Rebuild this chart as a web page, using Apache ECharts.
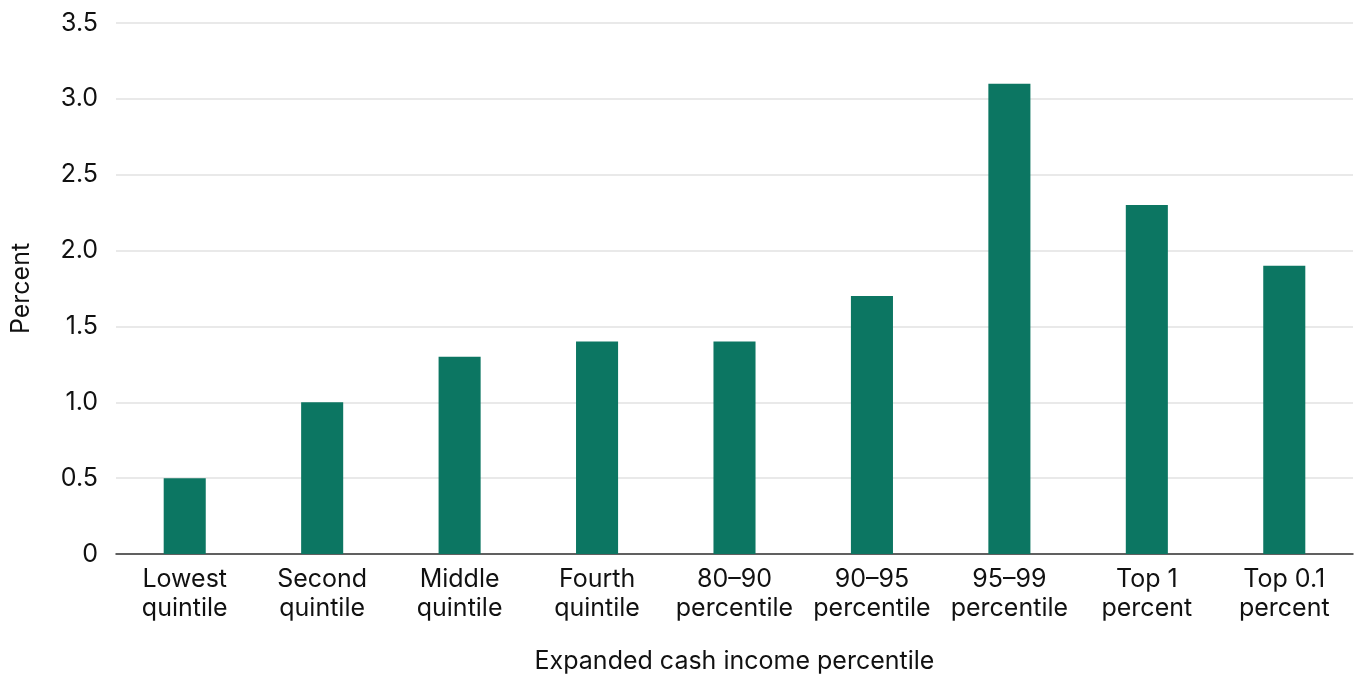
<!DOCTYPE html>
<html><head><meta charset="utf-8">
<script src="https://cdn.jsdelivr.net/npm/echarts@6/dist/echarts.min.js"></script>
<style>html,body{margin:0;padding:0;background:#fff}#c{width:1357px;height:681px}</style>
</head><body><div id="c"></div>
<script>
const categories = ['Lowest\nquintile','Second\nquintile','Middle\nquintile','Fourth\nquintile','80–90\npercentile','90–95\npercentile','95–99\npercentile','Top 1\npercent','Top 0.1\npercent'];
const values = [0.5, 1.0, 1.3, 1.4, 1.4, 1.7, 3.1, 2.3, 1.9];
const yTicks = ['0','0.5','1.0','1.5','2.0','2.5','3.0','3.5'];
const font = 'Inter, "Noto Sans", sans-serif';
const chart = echarts.init(document.getElementById('c'));
chart.setOption({
  animation:false,
  grid:{left:116,right:4,top:23,bottom:127},
  xAxis:{type:'category',data:categories,
    axisLine:{lineStyle:{color:'#333',width:1.5}},axisTick:{show:false},
    axisLabel:{color:'#111',fontSize:25,fontFamily:font,lineHeight:29,margin:11,interval:0},
    name:'Expanded cash income percentile',nameLocation:'middle',nameGap:95,
    nameTextStyle:{color:'#111',fontSize:25,fontFamily:font}},
  yAxis:{type:'value',min:0,max:3.5,interval:0.5,
    axisLabel:{color:'#111',fontSize:25,fontFamily:font,margin:18,
      formatter:(v)=>yTicks[Math.round(v*2)]},
    splitLine:{lineStyle:{color:'#e2e2e2',width:1.5}},
    name:'Percent',nameLocation:'middle',nameGap:82,
    nameTextStyle:{color:'#111',fontSize:25,fontFamily:font}},
  series:[{type:'bar',data:values,barWidth:'30.6%',itemStyle:{color:'#0c7662'}}]
});
</script></body></html>
